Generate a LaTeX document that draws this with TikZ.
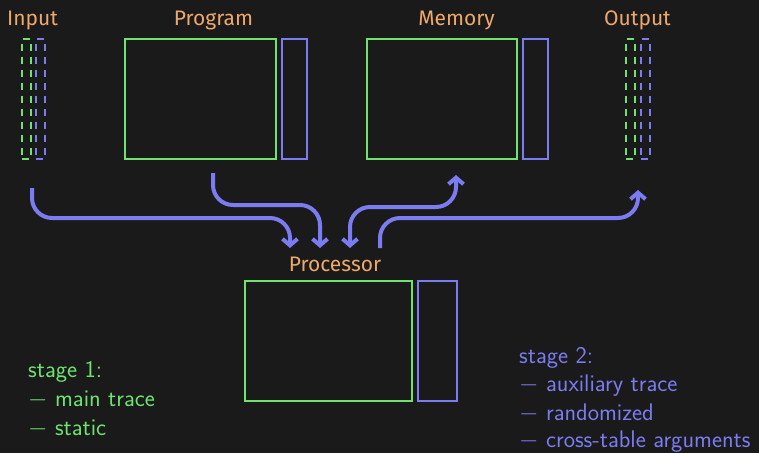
\documentclass[tikz,border=0pt]{standalone}
\usepackage{fontspec}
\newfontfamily\titlefont{Fira Sans}
\usetikzlibrary{arrows.meta}
\definecolor{bg}{HTML}{1A1A1A}
\definecolor{grn}{HTML}{6EE46E}
\definecolor{blu}{HTML}{7B7BF2}
\definecolor{org}{HTML}{EFA86B}
\begin{document}
\begin{tikzpicture}[x=1pt,y=-1pt,
  frame/.style={draw=#1, line width=2.3pt, inner sep=0pt, anchor=north west},
  dframe/.style={frame=#1, line width=2pt, dash pattern=on 7pt off 6pt},
  title/.style={text=org, font=\titlefont\fontsize{21}{24}\selectfont, anchor=base, inner sep=0pt},
  note/.style={font=\sffamily\fontsize{24}{28}\selectfont, anchor=base west, inner sep=0pt},
  arr/.style={draw=blu, line width=4pt, rounded corners=20pt,
    -{Straight Barb[length=6.5pt,width=15pt]}},
  darr/.style={arr, {Straight Barb[length=6.5pt,width=15pt]}-{Straight Barb[length=6.5pt,width=15pt]}}]

\useasboundingbox (0,0) rectangle (759,453);
\fill[bg] (0,0) rectangle (759,453);

% input and output columns
\node[dframe=grn, minimum width=9pt, minimum height=120pt] (inG) at (20.5,37.5) {};
\node[dframe=blu, minimum width=9pt, minimum height=120pt] (inB) at (35,37.5) {};
\node[dframe=grn, minimum width=9pt, minimum height=120pt] (outG) at (625,37.5) {};
\node[dframe=blu, minimum width=9pt, minimum height=120pt] (outB) at (640,37.5) {};

% program and memory tables
\node[frame=grn, minimum width=151pt, minimum height=120pt] (progG) at (123.5,37.5) {};
\node[frame=blu, minimum width=25pt, minimum height=120pt] (progB) at (280.5,37.5) {};
\node[frame=grn, minimum width=150pt, minimum height=120pt] (memG) at (366,37.5) {};
\node[frame=blu, minimum width=24.5pt, minimum height=120pt] (memB) at (522,37.5) {};

% processor table
\node[frame=grn, minimum width=166.5pt, minimum height=119.5pt] (procG) at (244,280) {};
\node[frame=blu, minimum width=39pt, minimum height=119.5pt] (procB) at (417,280) {};

% titles
\node[title] (tIn) at (32.5,25) {Input};
\node[title] (tProg) at (213.5,25) {Program};
\node[title] (tMem) at (456.5,25) {Memory};
\node[title] (tOut) at (637.5,25) {Output};
\node[title] (tProc) at (335,271.5) {Processor};

% connector ends
\coordinate (inA) at (32,188);
\coordinate (progA) at (213,173);
\coordinate (memA) at (456,175);
\coordinate (outA) at (638,190);
\coordinate (p1) at (290,248);
\coordinate (p2) at (320,248);
\coordinate (p3) at (350,248);
\coordinate (p4) at (380,248);

% data flow
\draw[arr] (inA) -- ++(0,30) -| (p1);
\draw[arr] (progA) -- ++(0,32) -| (p2);
\draw[darr] (p3) -- ++(0,-41) -| (memA);
\draw[arr] (p4) -- ++(0,-30) -| (outA);

% stage notes
\node[note, text=grn] (s1a) at (28,377) {stage 1:};
\node[note, text=grn] (s1b) at (28,406) {$-$ main trace};
\node[note, text=grn] (s1c) at (28,435) {$-$ static};
\node[note, text=blu] (s2a) at (519,363) {stage 2:};
\node[note, text=blu] (s2b) at (519,391.5) {$-$ auxiliary trace};
\node[note, text=blu] (s2c) at (519,420) {$-$ randomized};
\node[note, text=blu] (s2d) at (519,447) {$-$ cross-table arguments};
\end{tikzpicture}
\end{document}
